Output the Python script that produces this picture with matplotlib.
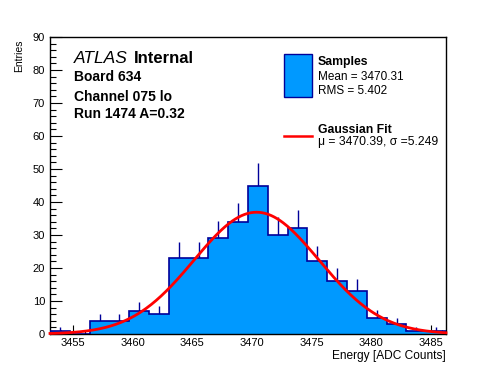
import numpy as np
import matplotlib
matplotlib.use("Agg")
import matplotlib.pyplot as plt
from matplotlib.patches import Rectangle
from matplotlib.lines import Line2D
from matplotlib.ticker import MultipleLocator

plt.rcParams['font.family'] = ['Liberation Sans', 'DejaVu Sans']

# histogram: 20 bins over the plotted range
x_lo, x_hi = 3453.05, 3486.3
n_bins = 20
counts = [1, 0, 4, 4, 7, 6, 23, 23, 29, 34, 45, 30, 32, 22, 16, 13, 5, 3, 1, 1]

# fit result shown in the legend
fit_mu = 3470.39
fit_sigma = 5.249
fit_const = 36.9
mean_txt = "Mean = 3470.31"
rms_txt = "RMS = 5.402"

W, H = 496, 372
fig = plt.figure(figsize=(W / 100, H / 100), dpi=100)
ax = fig.add_axes([50 / W, 1 - 334 / H, 396 / W, 297 / H])

edges = np.linspace(x_lo, x_hi, n_bins + 1)
centers = 0.5 * (edges[:-1] + edges[1:])
counts = np.array(counts, dtype=float)

# upper error bars (lower half hidden by the fill, as in ROOT)
ax.vlines(centers, counts, counts + np.sqrt(counts), color='#000099', lw=1, zorder=1)
ax.stairs(counts, edges, fill=True, color='#0099ff', zorder=2)
ax.stairs(counts, edges, color='#000099', lw=1.2, zorder=3)

xs = np.linspace(x_lo, x_hi, 400)
ax.plot(xs, fit_const * np.exp(-0.5 * ((xs - fit_mu) / fit_sigma) ** 2),
        color='red', lw=2, zorder=4, clip_on=False)

ax.set_xlim(x_lo, x_hi)
ax.set_ylim(0, 90)
ax.xaxis.set_major_locator(MultipleLocator(5))
ax.xaxis.set_minor_locator(MultipleLocator(1))
ax.yaxis.set_major_locator(MultipleLocator(10))
ax.yaxis.set_minor_locator(MultipleLocator(2))
ax.tick_params(which='both', direction='in', width=0.8, labelsize=8,
               top=False, right=False)
ax.tick_params(axis='x', which='major', length=6.5, pad=3)
ax.tick_params(axis='x', which='minor', length=3)
ax.tick_params(axis='y', which='major', length=8.6, pad=3.5)
ax.tick_params(axis='y', which='minor', length=4.3)
for s in ax.spines.values():
    s.set_linewidth(1)

def ftext(x, y, s, **kw):
    fig.text(x / W, 1 - y / H, s, va='baseline', **kw)

fig.text(19 / W, 1 - 39.5 / H, 'Entries', rotation=90, ha='center', va='top', fontsize=7.5)
ftext(446, 359, 'Energy [ADC Counts]', ha='right', fontsize=8.6)

ftext(73.5, 63, 'ATLAS', fontsize=12.5, style='italic')
ftext(134, 63, 'Internal', fontsize=12, weight='bold')
ftext(73.5, 80.7, 'Board 634', fontsize=10, weight='bold')
ftext(73.5, 100.7, 'Channel 075 lo', fontsize=10, weight='bold')
ftext(73.5, 118.3, 'Run 1474 A=0.32', fontsize=10, weight='bold')

# legend
fig.add_artist(Rectangle((283.5 / W, 1 - 96.5 / H), 28 / W, 43 / H,
                         facecolor='#0099ff', edgecolor='#000099', lw=1,
                         transform=fig.transFigure))
ftext(317.5, 65, 'Samples', fontsize=8.8, weight='bold')
ftext(317.5, 80, mean_txt, fontsize=8.5)
ftext(317.5, 94, rms_txt, fontsize=8.5)
fig.add_artist(Line2D([283.5 / W, 311.5 / W], [1 - 136 / H, 1 - 136 / H],
                      color='red', lw=1.8, transform=fig.transFigure))
ftext(317.5, 133, 'Gaussian Fit', fontsize=8.8, weight='bold')
ftext(317.5, 145, 'μ = %.2f, σ =%.3f' % (fit_mu, fit_sigma), fontsize=8.7)

fig.savefig('out.png', dpi=100)
